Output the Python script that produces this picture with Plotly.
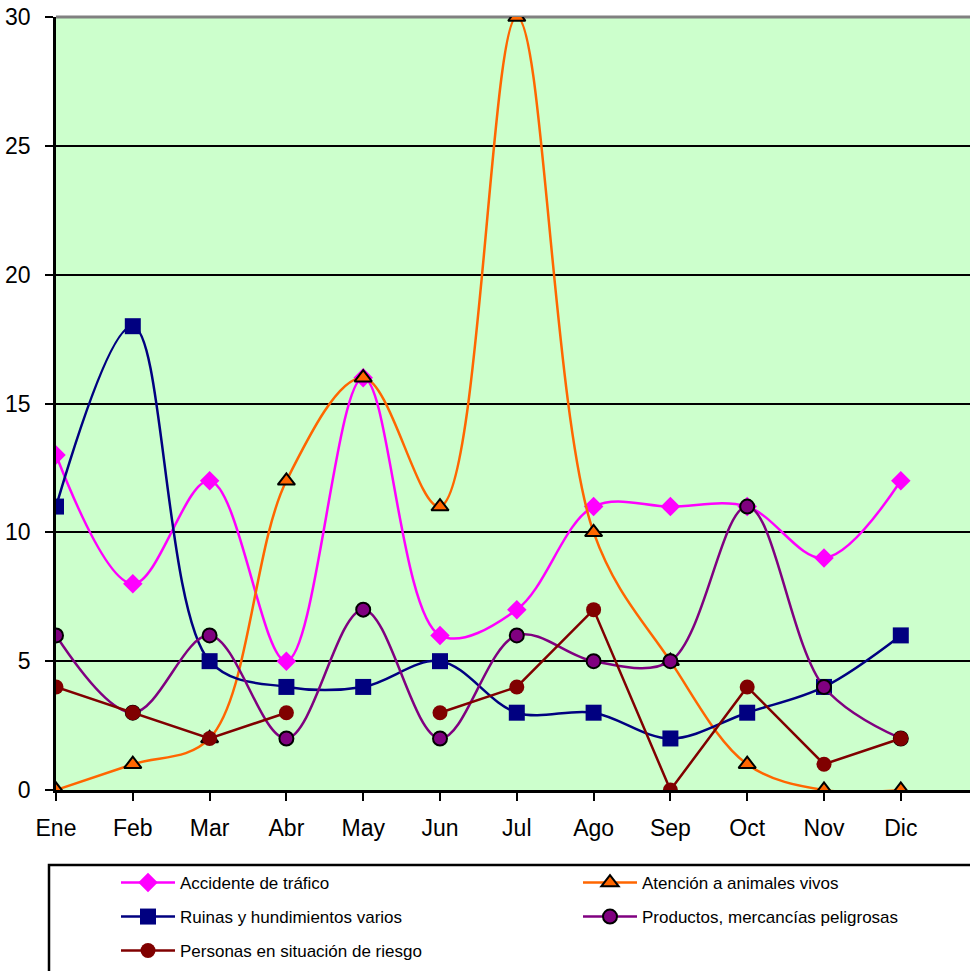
import plotly.graph_objects as go

months = ["Ene", "Feb", "Mar", "Abr", "May", "Jun", "Jul", "Ago", "Sep", "Oct", "Nov", "Dic"]
accidente = [13, 8, 12, 5, 16, 6, 7, 11, 11, 11, 9, 12]
animales = [0, 1, 2, 12, 16, 11, 30, 10, 5, 1, 0, 0]
ruinas = [11, 18, 5, 4, 4, 5, 3, 3, 2, 3, 4, 6]
productos = [6, 3, 6, 2, 7, 2, 6, 5, 5, 11, 4, 2]
personas = [4, 3, 2, 3, None, 3, 4, 7, 0, 4, 1, 2]
y_ticks = [0, 5, 10, 15, 20, 25, 30]

FONT = "Liberation Sans, Arial, sans-serif"
W, H = 970, 971
L, R, T, B = 56, 0, 17, 181
PW, PH = W - L - R, H - T - B

def px_x(X):
    return (X - L) / PW

def px_y(Y):
    return (H - B - Y) / PH

fig = go.Figure()

series = [
    dict(name="Accidente de tráfico", y=accidente, color="#FF00FF",
         marker=dict(symbol="diamond", size=15, color="#FF00FF", line=dict(width=0)),
         shape="spline", legend="legend"),
    dict(name="Atención a animales vivos", y=animales, color="#FF6600",
         marker=dict(symbol="triangle-up", size=15, color="#FF6600", line=dict(width=2, color="black")),
         shape="spline", legend="legend2"),
    dict(name="Ruinas y hundimientos varios", y=ruinas, color="#000080",
         marker=dict(symbol="square", size=16, color="#000080", line=dict(width=0)),
         shape="spline", legend="legend3"),
    dict(name="Productos, mercancías peligrosas", y=productos, color="#800080",
         marker=dict(symbol="circle", size=14, color="#800080", line=dict(width=2, color="black")),
         shape="spline", legend="legend4"),
    dict(name="Personas en situación de riesgo", y=personas, color="#800000",
         marker=dict(symbol="circle", size=15, color="#800000", line=dict(width=0)),
         shape="linear", legend="legend5"),
]

x_idx = list(range(len(months)))
for s in series:
    fig.add_trace(go.Scatter(
        x=x_idx, y=s["y"], name=s["name"], mode="lines+markers",
        line=dict(color=s["color"], width=2.5, shape=s["shape"], smoothing=1.0),
        marker=s["marker"], connectgaps=False, legend=s["legend"],
        showlegend=True,
    ))

# legend positions (pixel coordinates of each entry)
leg_pos = {
    "legend": (116, 883),
    "legend2": (578, 883),
    "legend3": (116, 917),
    "legend4": (578, 917),
    "legend5": (116, 951),
}
for key, (X, Y) in leg_pos.items():
    fig.update_layout(**{key: dict(
        x=px_x(X), y=px_y(Y), xanchor="left", yanchor="middle",
        xref="paper", yref="paper",
        bgcolor="rgba(0,0,0,0)", borderwidth=0,
        font=dict(family=FONT, size=17, color="black"),
        itemwidth=54,
    )})

fig.update_layout(
    width=W, height=H,
    showlegend=True,
    margin=dict(l=L, r=R, t=T, b=B, pad=0, autoexpand=False),
    paper_bgcolor="white",
    plot_bgcolor="#CCFFCC",
    font=dict(family=FONT, size=23, color="black"),
    xaxis=dict(
        range=[0, PW / 76.8],
        tickmode="array", tickvals=x_idx, ticktext=months,
        showgrid=False, zeroline=False,
        showline=True, linecolor="black", linewidth=2.5,
        ticks="outside", ticklen=8, tickwidth=2, tickcolor="black",
        ticklabelstandoff=8,
        tickfont=dict(family=FONT, size=23, color="black"),
    ),
    yaxis=dict(
        range=[0, 30],
        tickmode="array", tickvals=y_ticks,
        showgrid=True, gridcolor="black", gridwidth=2,
        zeroline=False,
        showline=True, linecolor="black", linewidth=2.5,
        ticks="outside", ticklen=8, tickwidth=2, tickcolor="black",
        ticklabelstandoff=10,
        tickfont=dict(family=FONT, size=23, color="black"),
    ),
    shapes=[
        dict(type="line", xref="paper", yref="paper", x0=0, x1=1, y0=1, y1=1,
             line=dict(color="#808080", width=3), layer="between"),
        dict(type="rect", xref="paper", yref="paper",
             x0=px_x(49), x1=px_x(980), y0=px_y(865), y1=px_y(985),
             line=dict(color="black", width=2.5), fillcolor="rgba(0,0,0,0)", layer="above"),
    ],
)

fig.write_html(
    "out.html",
    config={"displayModeBar": False},
    post_script="document.body.style.margin='0';document.body.style.overflow='hidden';",
)
